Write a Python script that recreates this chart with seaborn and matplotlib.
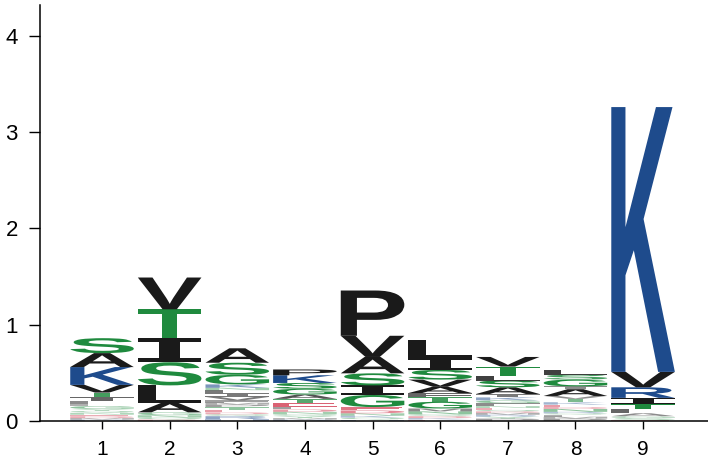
import numpy as np
import pandas as pd
import matplotlib
matplotlib.use("Agg")
import matplotlib.pyplot as plt
import seaborn as sns
from matplotlib.textpath import TextPath
from matplotlib.patches import PathPatch
from matplotlib.font_manager import FontProperties
from matplotlib.transforms import Affine2D

# ---- data: letters per position, listed bottom -> top, with heights (bits) ----
positions = [1, 2, 3, 4, 5, 6, 7, 8, 9]

pos1_letters = ["R", "M", "D", "E", "N", "Q", "Y", "G", "F", "L", "I", "T", "V", "K", "A", "S"]
pos1_heights = [0.015, 0.015, 0.02, 0.015, 0.02, 0.02, 0.02, 0.03, 0.02, 0.03, 0.04, 0.05, 0.08, 0.185, 0.145, 0.155]

pos2_letters = ["D", "Q", "N", "G", "A", "L", "S", "I", "T", "V"]
pos2_heights = [0.015, 0.02, 0.025, 0.03, 0.10, 0.18, 0.24, 0.25, 0.30, 0.33]

pos3_letters = ["H", "R", "Q", "D", "E", "T", "P", "M", "F", "V", "I", "L", "N", "K", "G", "S", "A"]
pos3_heights = [0.02, 0.03, 0.02, 0.02, 0.025, 0.03, 0.025, 0.02, 0.025, 0.035, 0.035, 0.035, 0.025, 0.035, 0.10, 0.125, 0.15]

pos4_letters = ["R", "M", "Y", "Q", "N", "D", "L", "E", "T", "A", "G", "S", "K", "P"]
pos4_heights = [0.015, 0.015, 0.02, 0.02, 0.025, 0.025, 0.025, 0.04, 0.045, 0.045, 0.06, 0.06, 0.08, 0.06]

pos5_letters = ["H", "Q", "K", "N", "D", "E", "G", "I", "S", "A", "V", "P"]
pos5_heights = [0.015, 0.02, 0.02, 0.025, 0.03, 0.035, 0.125, 0.10, 0.125, 0.17, 0.22, 0.47]

pos6_letters = ["E", "K", "D", "Q", "N", "M", "G", "T", "F", "A", "V", "S", "I", "L"]
pos6_heights = [0.015, 0.015, 0.02, 0.02, 0.03, 0.03, 0.07, 0.05, 0.04, 0.065, 0.075, 0.10, 0.12, 0.19]

pos7_letters = ["P", "Y", "R", "M", "D", "Q", "E", "N", "F", "G", "K", "I", "A", "S", "L", "T", "V"]
pos7_heights = [0.025, 0.02, 0.02, 0.02, 0.015, 0.015, 0.02, 0.02, 0.03, 0.03, 0.03, 0.035, 0.07, 0.07, 0.05, 0.095, 0.10]

pos8_letters = ["P", "M", "F", "Q", "R", "N", "D", "E", "K", "T", "V", "A", "I", "G", "S", "L"]
pos8_heights = [0.025, 0.02, 0.02, 0.015, 0.015, 0.03, 0.02, 0.025, 0.025, 0.035, 0.03, 0.07, 0.03, 0.07, 0.05, 0.05]

pos9_letters = ["E", "S", "G", "A", "L", "T", "I", "R", "V", "K"]
pos9_heights = [0.01, 0.02, 0.02, 0.03, 0.04, 0.06, 0.06, 0.11, 0.16, 2.75]

y_ticks = [0, 1, 2, 3, 4]

all_letters = [pos1_letters, pos2_letters, pos3_letters, pos4_letters, pos5_letters,
               pos6_letters, pos7_letters, pos8_letters, pos9_letters]
all_heights = [pos1_heights, pos2_heights, pos3_heights, pos4_heights, pos5_heights,
               pos6_heights, pos7_heights, pos8_heights, pos9_heights]

rows = []
for p, lets, hs in zip(positions, all_letters, all_heights):
    for l, h in zip(lets, hs):
        rows.append({"position": p, "letter": l, "height": h})
df = pd.DataFrame(rows)
df["bottom"] = df.groupby("position")["height"].cumsum() - df["height"]

# ---- style ----
GREEN = "#1f8a3e"
BLUE = "#1e4b8c"
RED = "#c8142f"
BLACK = "#1a1a1a"
color_of = {}
for c in "GSTYCNQ":
    color_of[c] = GREEN
for c in "KRH":
    color_of[c] = BLUE
for c in "DE":
    color_of[c] = RED
for c in "AVLIPWFM":
    color_of[c] = BLACK

sns.set_theme(style="ticks")
plt.rcParams["font.family"] = ["Liberation Sans", "DejaVu Sans"]

fig = plt.figure(figsize=(7.08, 4.72), dpi=100)
ax = fig.add_axes([40 / 708, 51 / 472, 668 / 708, 416 / 472])

fp_main = FontProperties(family="Liberation Sans", weight="bold")
fp_i = FontProperties(family="DejaVu Sans Mono", weight="bold")

letter_width = 0.94
for _, r in df.iterrows():
    fp = fp_i if r.letter == "I" else fp_main
    path = TextPath((0, 0), r.letter, size=1, prop=fp)
    bb = path.get_extents()
    tr = (Affine2D()
          .translate(-bb.x0, -bb.y0)
          .scale(letter_width / bb.width, r.height / bb.height)
          .translate(r.position - letter_width / 2, r.bottom))
    alpha = float(np.clip(r.height / 0.06, 0.35, 1.0))
    patch = PathPatch(tr.transform_path(path), facecolor=color_of[r.letter],
                      edgecolor="none", lw=0, alpha=alpha)
    ax.add_patch(patch)

ax.set_xlim(0.083, 9.96)
ax.set_ylim(0, 4.32)
ax.set_xticks(positions)
ax.set_xticklabels([str(p) for p in positions])
ax.set_yticks(y_ticks)
ax.set_yticklabels([str(t) for t in y_ticks])
ax.tick_params(axis="y", length=8, width=1, pad=8, labelsize=16, colors="black")
ax.tick_params(axis="x", length=6, width=1, pad=8, labelsize=15, colors="black")
for s in ["left", "bottom"]:
    ax.spines[s].set_linewidth(1.1)
    ax.spines[s].set_color("black")
sns.despine(ax=ax)

fig.savefig("out.png", dpi=100)
